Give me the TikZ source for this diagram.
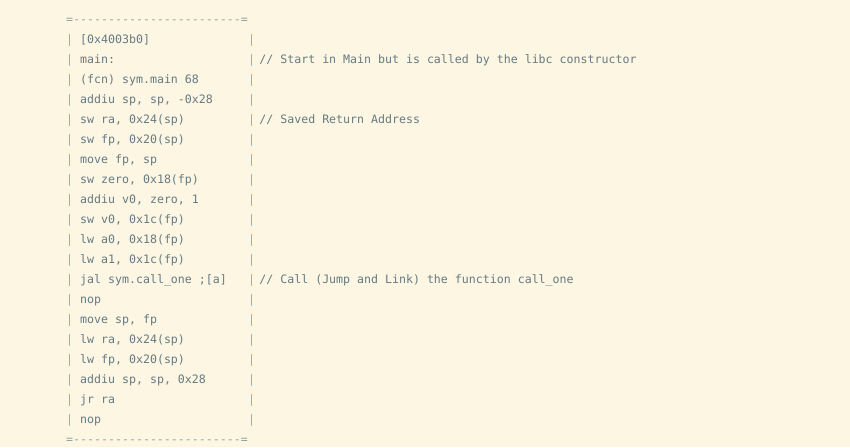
\documentclass[tikz,border=0pt]{standalone}
\usepackage{fontspec}
\setmonofont{DejaVu Sans Mono}
\definecolor{bg}{HTML}{FDF6E3}
\definecolor{txt}{HTML}{657B83}
\definecolor{rule}{HTML}{93A1A1}
\definecolor{pipe}{HTML}{7FB4CA}
\tikzset{t/.style={anchor=west,inner sep=0pt,text height=8.5pt,text depth=2.5pt,font=\ttfamily\fontsize{11.6}{14}\selectfont,text=txt},
 p/.style={t,text=pipe}, r/.style={t,text=rule}}
\newcommand\cw{7.0}
\newcommand\row[3]{%
 \node[p] (pl#1) at (66pt,{-(20+20*#1)*1pt}) {|};
 \node[t] (tx#1) at ({(66+2*\cw)*1pt},{-(20+20*#1)*1pt}) {#2};
 \node[p] (pr#1) at ({(66+26*\cw)*1pt},{-(20+20*#1)*1pt}) {|};
 \node[t] (cm#1) at ({(66+27.6*\cw)*1pt},{-(20+20*#1)*1pt}) {#3};}
\begin{document}
\begin{tikzpicture}[x=1pt,y=1pt]
\fill[bg] (0,0) rectangle (850,-447);
\useasboundingbox (0,0) rectangle (850,-447);
\node[r] (top) at (66,-20) {=------------------------=};
\row{1}{[0x4003b0]}{}
\row{2}{main:}{// Start in Main but is called by the libc constructor}
\row{3}{(fcn) sym.main 68}{}
\row{4}{addiu sp, sp, -0x28}{}
\row{5}{sw ra, 0x24(sp)}{// Saved Return Address}
\row{6}{sw fp, 0x20(sp)}{}
\row{7}{move fp, sp}{}
\row{8}{sw zero, 0x18(fp)}{}
\row{9}{addiu v0, zero, 1}{}
\row{10}{sw v0, 0x1c(fp)}{}
\row{11}{lw a0, 0x18(fp)}{}
\row{12}{lw a1, 0x1c(fp)}{}
\row{13}{jal sym.call\_one ;[a]}{// Call (Jump and Link) the function call\_one}
\row{14}{nop}{}
\row{15}{move sp, fp}{}
\row{16}{lw ra, 0x24(sp)}{}
\row{17}{lw fp, 0x20(sp)}{}
\row{18}{addiu sp, sp, 0x28}{}
\row{19}{jr ra}{}
\row{20}{nop}{}
\node[r] (bot) at (66,-440) {=------------------------=};
\end{tikzpicture}
\end{document}
